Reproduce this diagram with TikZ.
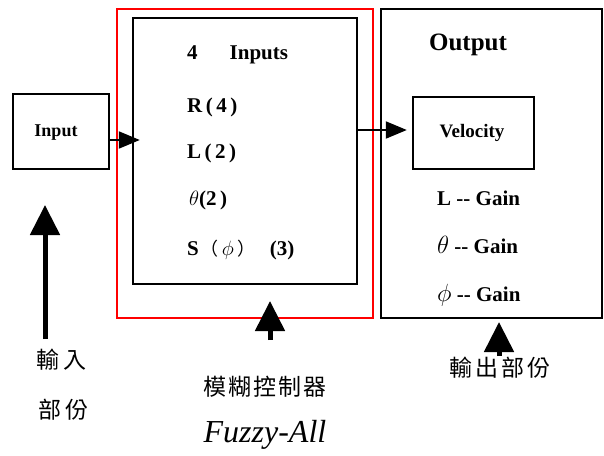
\documentclass[tikz,border=0pt]{standalone}
\usepackage{fontspec}
\setmainfont{Liberation Serif}
\newfontfamily\cjk{Noto Sans CJK TC}
\usetikzlibrary{arrows.meta}
\begin{document}
\begin{tikzpicture}[x=1pt,y=-1pt,
  blk/.style={draw=black, line width=2.4pt, inner sep=0pt},
  redbox/.style={draw=red, line width=2pt, inner sep=0pt},
  harr/.style={line width=2pt, -{Triangle[length=21pt,width=17pt]}},
  varr/.style={line width=5pt, -{Triangle[length=30pt,width=29pt]}},
  lbl/.style={font=\bfseries\fontsize{21}{24}\selectfont, anchor=west, inner sep=0pt},
  cjklbl/.style={font=\cjk\fontsize{23}{26}\selectfont, inner sep=0pt}]
\fill[white] (0,0) rectangle (604,455);
\useasboundingbox (0,0) rectangle (604,455);
% boxes
\node[blk, minimum width=96pt, minimum height=75pt] (input) at (61,131.5) {};
\node[font=\bfseries\fontsize{18}{20}\selectfont] at (56,133) {Input};
\node[redbox, minimum width=256pt, minimum height=309pt] (fuzzy) at (245,163.5) {};
\node[blk, minimum width=224pt, minimum height=266pt] (inner) at (245,151) {};
\node[blk, minimum width=221pt, minimum height=309pt] (output) at (491.5,163.5) {};
\node[blk, minimum width=121pt, minimum height=72pt] (vel) at (473.5,133) {};
\node[font=\bfseries\fontsize{19}{22}\selectfont] at (472,133) {Velocity};
% inner texts
\node[lbl] at (187,55) {4\hspace{32pt}Inputs};
\node[lbl] at (187,107) {R\,(\,4\,)};
\node[lbl] at (187,153) {L\,(\,2\,)};
\node[lbl] at (189,200) {$\theta$(2\,)};
\node[lbl] at (187,250) {S\hspace{2pt}{\mdseries\cjk\fontsize{18}{20}\selectfont（}\hspace{3pt}$\phi$\hspace{4pt}{\mdseries\cjk\fontsize{18}{20}\selectfont）}\hspace{14pt}(3)};
% output texts
\node[font=\bfseries\fontsize{25}{28}\selectfont] at (468,45) {Output};
\node[lbl] at (437,198) {L -{}- Gain};
\node[lbl] at (437,245) {\fontsize{23}{24}\selectfont$\theta$\fontsize{21}{24}\selectfont\ -{}- Gain};
\node[lbl] at (437,295) {\fontsize{23}{24}\selectfont$\phi$\fontsize{21}{24}\selectfont\ -{}- Gain};
% connectors
\draw[harr, shorten >=-8pt] (input.east |- 0,140) -- (inner.west |- 0,140);
\draw[harr, shorten >=5pt] (inner.east |- 0,130) -- (vel.west |- 0,130);
% vertical arrows
\coordinate (lbot) at (45,339);
\coordinate (ltip) at (45,205);
\draw[varr] (lbot) -- (ltip);
\coordinate (mbot) at (270,340);
\coordinate (mtip) at (270,301);
\draw[varr] (mbot) -- (mtip);
\coordinate (rbot) at (499,356);
\coordinate (rtip) at (499,322);
\draw[varr] (rbot) -- (rtip);
% labels
\node[cjklbl, anchor=west] at (36,360) {輸\hspace{4pt}入};
\node[cjklbl, anchor=west] at (38,410) {部\hspace{4pt}份};
\node[cjklbl] at (265,387) {模\hspace{2pt}糊\hspace{2pt}控\hspace{2pt}制\hspace{2pt}器};
\node[font=\itshape\fontsize{32}{34}\selectfont, inner sep=0pt] at (265,435) {Fuzzy-All};
\node[cjklbl] at (500,368) {輸\hspace{3pt}出\hspace{3pt}部\hspace{3pt}份};
\end{tikzpicture}
\end{document}
